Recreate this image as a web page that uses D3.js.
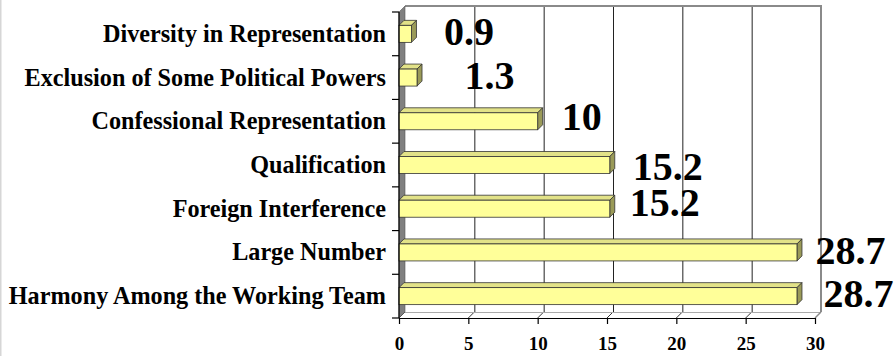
<!DOCTYPE html>
<html>
<head>
<meta charset="utf-8">
<script src="https://cdn.jsdelivr.net/npm/d3@7"></script>
<style>
  html, body { margin: 0; padding: 0; background: #fff; }
  svg { display: block; }
  text { font-family: "Liberation Serif", "Times New Roman", serif; font-weight: bold; fill: #000; }
</style>
</head>
<body>
<svg id="chart" width="896" height="356"></svg>
<script>
// Categories, top to bottom, with their percentages
const categories = [
  "Diversity in Representation",
  "Exclusion of Some Political Powers",
  "Confessional Representation",
  "Qualification",
  "Foreign Interference",
  "Large Number",
  "Harmony Among the Working Team"
];
const values = [0.9, 1.3, 10, 15.2, 15.2, 28.7, 28.7];
const xTicks = [0, 5, 10, 15, 20, 25, 30];

// Hand-placed nudges for the value labels (pixels: [dx, dy])
const labelNudge = [[8.5, 0], [23.5, 0], [0, -2], [-1, 4], [-4, -3.5], [-5.5, 0.5], [2.5, 0]];

const svg = d3.select("#chart");
const W = 896, H = 356;

// Front plane of the 3-D plot box and its depth offset
const front = { left: 399, right: 815, top: 12, bottom: 318 };
const depth = 6;          // wall depth (dx = +depth, dy = -depth)
const barDepth = 5;       // depth of each bar
const barH = 17;          // front-face height of each bar

const x = d3.scaleLinear().domain([0, 30]).range([front.left, front.right]);
const y = d3.scaleBand().domain(categories).range([front.top, front.bottom]).padding(0);

// faint outer border at the left edge
svg.append("rect").attr("x", 0).attr("y", 0).attr("width", 1.5).attr("height", H).attr("fill", "#d6d6d6");

const g = svg.append("g");

// back wall
const bx = v => x(v) + depth;
const backTop = front.top - depth, backBottom = front.bottom - depth;
g.append("rect")
  .attr("x", bx(0)).attr("y", backTop)
  .attr("width", bx(30) - bx(0)).attr("height", backBottom - backTop)
  .attr("fill", "#fff");

// floor
g.append("path")
  .attr("d", `M${x(0)},${front.bottom}L${x(30)},${front.bottom}L${bx(30)},${backBottom}L${bx(0)},${backBottom}Z`)
  .attr("fill", "#fff");

// vertical gridlines on the back wall, continued across the floor
xTicks.filter(t => t > 0 && t < 30).forEach(t => {
  g.append("line")
    .attr("x1", bx(t) + 0.5).attr("x2", bx(t) + 0.5)
    .attr("y1", backTop).attr("y2", backBottom)
    .attr("stroke", "#222").attr("stroke-width", 1);
});
xTicks.forEach(t => {
  g.append("line")
    .attr("x1", bx(t)).attr("y1", backBottom)
    .attr("x2", x(t)).attr("y2", front.bottom)
    .attr("stroke", "#333").attr("stroke-width", 1);
});

// back-wall border (top and right) and floor back edge
g.append("path")
  .attr("d", `M${bx(0)},${backTop}L${bx(30)},${backTop}L${bx(30)},${backBottom}`)
  .attr("fill", "none").attr("stroke", "#8a8a8a").attr("stroke-width", 2);
g.append("line")
  .attr("x1", bx(0)).attr("x2", bx(30)).attr("y1", backBottom + 0.5).attr("y2", backBottom + 0.5)
  .attr("stroke", "#aaa").attr("stroke-width", 1);
g.append("line")
  .attr("x1", bx(30)).attr("y1", backBottom).attr("x2", x(30)).attr("y2", front.bottom)
  .attr("stroke", "#8a8a8a").attr("stroke-width", 1.5);

// left side wall
g.append("path")
  .attr("d", `M${x(0)},${front.top}L${bx(0)},${backTop}L${bx(0)},${backBottom}L${x(0)},${front.bottom}Z`)
  .attr("fill", "#808080").attr("stroke", "#555").attr("stroke-width", 0.6);

// bars: front face, top face, right side face
const bars = g.selectAll("g.bar")
  .data(categories.map((c, i) => ({ c, v: values[i], i })))
  .join("g").attr("class", "bar");

bars.each(function (d) {
  const sel = d3.select(this);
  const yc = y(d.c) + y.bandwidth() / 2;
  const y0 = yc - barH / 2, y1 = yc + barH / 2;
  const x0 = x(0), x1 = x(d.v);
  sel.append("path")
    .attr("d", `M${x0},${y0}L${x1},${y0}L${x1 + barDepth},${y0 - barDepth}L${x0 + barDepth},${y0 - barDepth}Z`)
    .attr("fill", "#e2e288").attr("stroke", "#333").attr("stroke-width", 0.8).attr("stroke-linejoin", "round");
  sel.append("path")
    .attr("d", `M${x1},${y0}L${x1 + barDepth},${y0 - barDepth}L${x1 + barDepth},${y1 - barDepth}L${x1},${y1}Z`)
    .attr("fill", "#9a9a58").attr("stroke", "#333").attr("stroke-width", 0.8).attr("stroke-linejoin", "round");
  sel.append("rect")
    .attr("x", x0).attr("y", y0).attr("width", x1 - x0).attr("height", barH)
    .attr("fill", "#ffff99").attr("stroke", "#333").attr("stroke-width", 0.8);
});

// category axis (left, front edge)
g.append("line")
  .attr("x1", x(0)).attr("x2", x(0)).attr("y1", front.top).attr("y2", front.bottom)
  .attr("stroke", "#000").attr("stroke-width", 1.2);
const bounds = categories.map(c => y(c)).concat([front.bottom]);
bounds.forEach(b => {
  g.append("line")
    .attr("x1", x(0) - 7).attr("x2", x(0)).attr("y1", b).attr("y2", b)
    .attr("stroke", "#000").attr("stroke-width", 1.2);
});
g.selectAll("text.cat")
  .data(categories)
  .join("text").attr("class", "cat")
  .attr("x", x(0) - 13)
  .attr("y", c => y(c) + y.bandwidth() / 2 + 8)
  .attr("text-anchor", "end")
  .attr("font-size", 24.2)
  .text(c => c);

// value axis (bottom, front edge)
const xAxis = g.append("g")
  .attr("transform", `translate(0,${front.bottom})`)
  .call(d3.axisBottom(x).tickValues(xTicks).tickSize(6).tickPadding(13).tickSizeOuter(0));
xAxis.select(".domain").attr("stroke", "#000").attr("stroke-width", 1.2);
xAxis.selectAll(".tick line").attr("stroke", "#000").attr("stroke-width", 1.2);
xAxis.selectAll(".tick text")
  .attr("font-family", "\"Liberation Serif\", \"Times New Roman\", serif")
  .attr("font-weight", "bold")
  .attr("font-size", 19)
  .attr("fill", "#000");

// value labels
g.selectAll("text.val")
  .data(categories.map((c, i) => ({ c, v: values[i], i })))
  .join("text").attr("class", "val")
  .attr("x", d => x(d.v) + 24 + labelNudge[d.i][0])
  .attr("y", d => y(d.c) + y.bandwidth() / 2 + 11 + labelNudge[d.i][1])
  .attr("font-size", 40)
  .text(d => d3.format("")(d.v));
</script>
</body>
</html>
